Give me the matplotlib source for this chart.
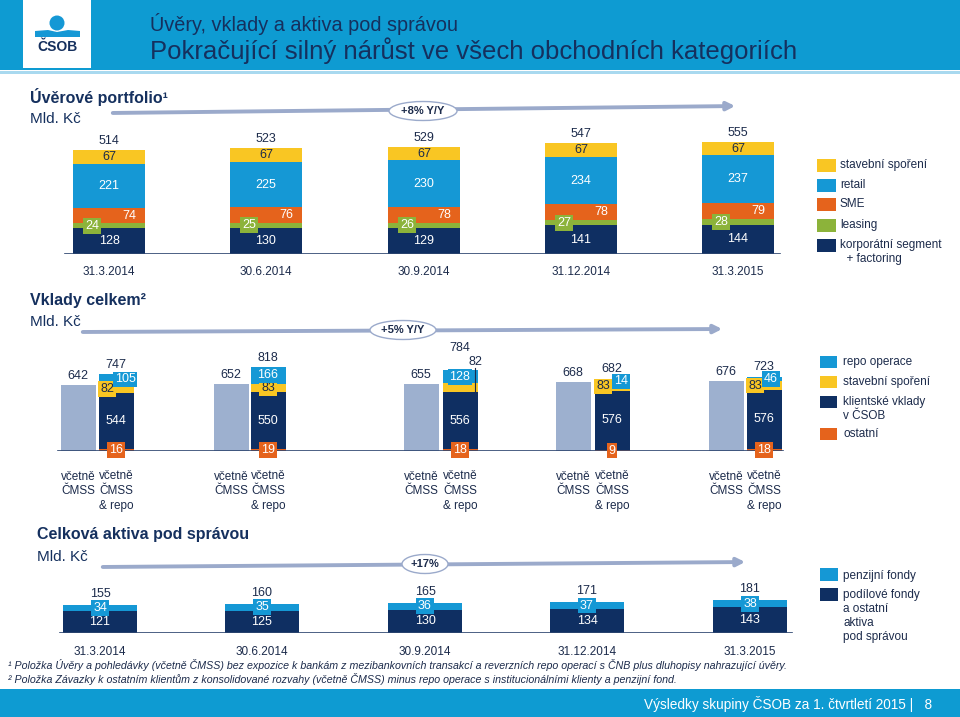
import numpy as np
import matplotlib.pyplot as plt
from matplotlib.patches import Rectangle, Ellipse, Circle

plt.rcParams['font.family'] = ['Liberation Sans', 'DejaVu Sans']

W, H = 960, 717

NAVY = '#0F2F62'
BLUE = '#1598D5'
ORANGE = '#E5631C'
GREEN = '#8CB33A'
YELLOW = '#F9C623'
GREY = '#9DB0CF'
ARROW = '#9BAACB'
HEAD = '#0E9BD2'
TXT = '#1C2B4B'
TITLE = '#15305E'

dates = ['31.3.2014', '30.6.2014', '30.9.2014', '31.12.2014', '31.3.2015']

# Úvěrové portfolio
loan_corp = [128, 130, 129, 141, 144]
loan_leasing = [24, 25, 26, 27, 28]
loan_sme = [74, 76, 78, 78, 79]
loan_retail = [221, 225, 230, 234, 237]
loan_ss = [67, 67, 67, 67, 67]
loan_total = [514, 523, 529, 547, 555]
loan_names = ['stavební spoření', 'retail', 'SME', 'leasing', 'korporátní segment\n  + factoring']

# Vklady celkem
dep_cmss = [642, 652, 655, 668, 676]
dep_other = [16, 19, 18, 9, 18]
dep_client = [544, 550, 556, 576, 576]
dep_ss = [82, 83, 82, 83, 83]
dep_repo = [105, 166, 128, 14, 46]
dep_total = [747, 818, 784, 682, 723]
dep_names = ['repo operace', 'stavební spoření', 'klientské vklady\nv ČSOB', 'ostatní']

# Celková aktiva pod správou
aum_funds = [121, 125, 130, 134, 143]
aum_pension = [34, 35, 36, 37, 38]
aum_total = [155, 160, 165, 171, 181]
aum_names = ['penzijní fondy', 'podílové fondy\na ostatní\naktiva\npod správou']

growth = ['+8% Y/Y', '+5% Y/Y', '+17%']

fig = plt.figure(figsize=(9.6, 7.17), dpi=100)
bg = fig.add_axes([0, 0, 1, 1])
bg.set_xlim(0, W)
bg.set_ylim(H, 0)
bg.axis('off')


def chart_ax(base_px, top_px, scale):
    ax = fig.add_axes([0, 1 - base_px / H, 1, (base_px - top_px) / H])
    ax.set_xlim(0, W)
    ax.set_ylim(0, (base_px - top_px) / scale)
    ax.axis('off')
    return ax


def box(col, pad=0.15):
    return dict(boxstyle='square,pad=%s' % pad, fc=col, ec='none')


# header / footer
bg.add_patch(Rectangle((0, 0), W, 70, color=HEAD, lw=0))
bg.add_patch(Rectangle((0, 71), W, 3, color='#A9D9EF', lw=0))
bg.add_patch(Rectangle((23, 0), 68, 68, color='white', lw=0))
bg.add_patch(Circle((57, 23), 7.5, color=BLUE, lw=0))
bg.fill([35, 48, 57, 68, 80, 80, 35], [31, 30, 32, 30, 31, 37, 37], color=BLUE, lw=0)
bg.text(57, 47, 'ČSOB', ha='center', va='center', fontsize=10, fontweight='bold', color=TITLE)
bg.text(150, 24, 'Úvěry, vklady a aktiva pod správou', ha='left', va='center', fontsize=14.3, color=TITLE)
bg.text(150, 51, 'Pokračující silný nárůst ve všech obchodních kategoriích', ha='left', va='center',
        fontsize=18.5, color=TITLE)
bg.add_patch(Rectangle((0, 689), W, 28, color=HEAD, lw=0))
bg.text(932, 704, 'Výsledky skupiny ČSOB za 1. čtvrtletí 2015 |   8', ha='right', va='center',
        fontsize=9.8, color='white')

# section titles
for (x, y), t in zip([(30, 97), (30, 300), (37, 535)],
                     ['Úvěrové portfolio¹', 'Vklady celkem²', 'Celková aktiva pod správou']):
    bg.text(x, y, t, ha='left', va='center', fontsize=11.5, fontweight='bold', color=TITLE)
    bg.text(x, y + 22, 'Mld. Kč', ha='left', va='center', fontsize=11, color=TITLE)

# growth arrows
for (x0, y0, x1, y1, ex, ey, ew), g in zip([(110, 113, 738, 106, 423, 111, 68),
                                            (80, 332, 725, 329, 403, 330, 66),
                                            (100, 567, 748, 562, 425, 564, 46)], growth):
    bg.annotate('', xy=(x1, y1), xytext=(x0, y0),
                arrowprops=dict(arrowstyle='-|>', color=ARROW, lw=2.8, mutation_scale=12))
    bg.add_patch(Ellipse((ex, ey), ew, 19, fc='white', ec=ARROW, lw=1, zorder=5))
    bg.text(ex, ey, g, ha='center', va='center', fontsize=8, fontweight='bold', color=TXT, zorder=6)

# ---- loans
ax1 = chart_ax(254, 125, 0.2023)
lx = np.array([109, 266, 424, 581, 738])
bottom = np.zeros(5)
layers = [loan_corp, loan_leasing, loan_sme, loan_retail, loan_ss]
cols = [NAVY, GREEN, ORANGE, BLUE, YELLOW]
for vals, c in zip(layers, cols):
    ax1.bar(lx, vals, 72, bottom=bottom, color=c, lw=0)
    bottom += vals
ax1.plot([65, 780], [0, 0], color='#2E4670', lw=1.2)
for i in range(5):
    ax1.text(lx[i], loan_corp[i] / 2, loan_corp[i], ha='center', va='center', fontsize=9, color='white')
    b = loan_corp[i]
    ax1.text(lx[i] - 17, b + loan_leasing[i] / 2, loan_leasing[i], ha='center', va='center', fontsize=9,
             color='white', bbox=box(GREEN))
    b += loan_leasing[i]
    ax1.text(lx[i] + 20, b + loan_sme[i] / 2, loan_sme[i], ha='center', va='center', fontsize=9, color='white')
    b += loan_sme[i]
    ax1.text(lx[i], b + loan_retail[i] / 2, loan_retail[i], ha='center', va='center', fontsize=9, color='white')
    b += loan_retail[i]
    ax1.text(lx[i], b + loan_ss[i] / 2, loan_ss[i], ha='center', va='center', fontsize=9, color=TXT)
    ax1.text(lx[i], loan_total[i] + 9 / 0.2023, loan_total[i], ha='center', va='center', fontsize=9, color=TXT)
    bg.text(lx[i], 272, dates[i], ha='center', va='center', fontsize=8.5, color=TXT)

for k, (n, c) in enumerate(zip(loan_names, cols[::-1])):
    y = [166, 186, 205, 226, 246][k]
    bg.add_patch(Rectangle((817, y - 7), 19, 13, color=c, lw=0))
    bg.text(840, y - 1 if k < 4 else y + 6, n, ha='left', va='center', fontsize=8.5, color=TXT,
            linespacing=1.25)

# ---- deposits
ax2 = chart_ax(451, 320, 0.103)
gx = np.array([78, 231, 421, 573, 726])
sx = np.array([116, 268, 460, 612, 764])
ax2.bar(gx, dep_cmss, 35, color=GREY, lw=0)
bottom = np.zeros(5)
dcols = [ORANGE, NAVY, YELLOW, BLUE]
for vals, c in zip([dep_other, dep_client, dep_ss, dep_repo], dcols):
    ax2.bar(sx, vals, 35, bottom=bottom, color=c, lw=0)
    bottom += vals
ax2.plot([58, 783], [0, 0], color='#2E4670', lw=1.2)
ss_dx = [-9, 0, None, -9, -9]
repo_dx = [9, 0, 0, 9, 7]
tot_off = [9, 9, 22, 12, 10]
for i in range(5):
    ax2.text(gx[i], dep_cmss[i] + 9 / 0.103, dep_cmss[i], ha='center', va='center', fontsize=9, color=TXT)
    ax2.text(sx[i], dep_total[i] + tot_off[i] / 0.103, dep_total[i], ha='center', va='center', fontsize=9,
             color=TXT)
    ax2.text(sx[i], dep_other[i] / 2, dep_other[i], ha='center', va='center', fontsize=9, color='white',
             bbox=box(ORANGE))
    b = dep_other[i]
    ax2.text(sx[i], b + dep_client[i] / 2, dep_client[i], ha='center', va='center', fontsize=9, color='white')
    b += dep_client[i]
    if ss_dx[i] is None:
        ax2.text(sx[i] + 15, dep_total[i] + 8 / 0.103, dep_ss[i], ha='center', va='center', fontsize=9,
                 color=TXT)
        ax2.plot([sx[i] + 15] * 2, [dep_total[i] + 2 / 0.103, b], color=TXT, lw=0.8)
    else:
        ax2.text(sx[i] + ss_dx[i], b + dep_ss[i] / 2, dep_ss[i], ha='center', va='center', fontsize=9,
                 color=TXT, bbox=box(YELLOW))
    b += dep_ss[i]
    ax2.text(sx[i] + repo_dx[i], b + dep_repo[i] / 2, dep_repo[i], ha='center', va='center', fontsize=9,
             color='white', bbox=box(BLUE))
    bg.text(gx[i], 484, 'včetně\nČMSS', ha='center', va='center', fontsize=8.5, color=TXT, linespacing=1.3)
    bg.text(sx[i], 491, 'včetně\nČMSS\n& repo', ha='center', va='center', fontsize=8.5, color=TXT,
            linespacing=1.3)

for k, (n, c) in enumerate(zip(dep_names, dcols[::-1])):
    y = [362, 382, 402, 434][k]
    bg.add_patch(Rectangle((820, y - 6), 17, 12, color=c, lw=0))
    bg.text(843, y if k != 2 else y + 7, n, ha='left', va='center', fontsize=8.5, color=TXT,
            linespacing=1.25)

# ---- assets under management
ax3 = chart_ax(633, 580, 0.18)
ax_ = np.array([100, 262, 425, 587, 750])
ax3.bar(ax_, aum_funds, 74, color=NAVY, lw=0)
ax3.bar(ax_, aum_pension, 74, bottom=aum_funds, color=BLUE, lw=0)
ax3.plot([60, 792], [0, 0], color='#2E4670', lw=1.2)
for i in range(5):
    ax3.text(ax_[i], aum_funds[i] / 2, aum_funds[i], ha='center', va='center', fontsize=9, color='white')
    ax3.text(ax_[i], aum_funds[i] + aum_pension[i] / 2, aum_pension[i], ha='center', va='center', fontsize=9,
             color='white', bbox=box(BLUE))
    ax3.text(ax_[i], aum_total[i] + 11 / 0.18, aum_total[i], ha='center', va='center', fontsize=9, color=TXT)
    bg.text(ax_[i], 652, dates[i], ha='center', va='center', fontsize=8.5, color=TXT)

for k, (n, c) in enumerate(zip(aum_names, [BLUE, NAVY])):
    y = [575, 595][k]
    bg.add_patch(Rectangle((820, y - 7), 18, 13, color=c, lw=0))
    bg.text(843, y + 1 if k == 0 else y + 21, n, ha='left', va='center', fontsize=8.5, color=TXT,
            linespacing=1.2)

# footnotes
bg.text(8, 665, '¹ Položka Úvěry a pohledávky (včetně ČMSS) bez expozice k bankám z mezibankovních transakcí '
        'a reverzních repo operací s ČNB plus dluhopisy nahrazující úvěry.',
        ha='left', va='center', fontsize=7.7, style='italic', color=TXT)
bg.text(8, 679, '² Položka Závazky k ostatním klientům z konsolidované rozvahy (včetně ČMSS) minus repo operace '
        's institucionálními klienty a penzijní fond.',
        ha='left', va='center', fontsize=7.7, style='italic', color=TXT)

fig.savefig('out.png', dpi=100)
